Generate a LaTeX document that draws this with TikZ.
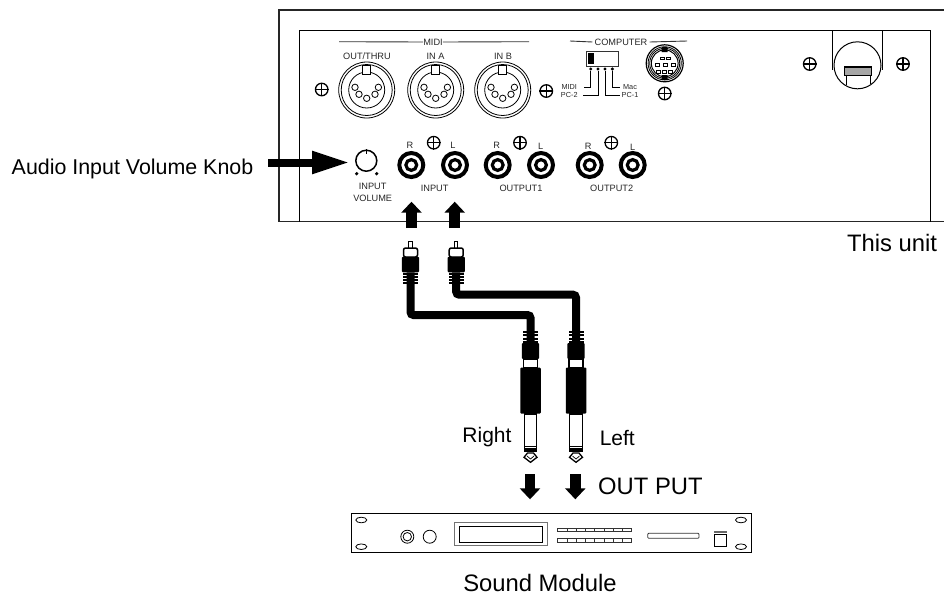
\documentclass[tikz,border=0pt]{standalone}
\usepackage{fontspec}
\setmainfont{Liberation Sans}
\usetikzlibrary{arrows.meta}
\tikzset{
  bigfont/.style={font=\fontsize{21}{25}\selectfont,inner sep=0pt},
  hugefont/.style={font=\fontsize{23.8}{29}\selectfont,inner sep=0pt},
  panelfont/.style={font=\fontsize{9.2}{12.6}\selectfont,inner sep=0pt,align=center,text=black!85},
  tinyfont/.style={font=\fontsize{7.3}{8}\selectfont,inner sep=0pt,text=black!85},
  screw/.style={draw,circle,line width=1.3pt,minimum size=12.5pt,inner sep=0pt},
  blockup/.style={line width=10.5pt,-{Triangle[length=11pt,width=20pt]}},
  cable/.style={line width=8pt,rounded corners=3pt},
  partblack/.style={fill=black,draw=none,inner sep=0pt,rounded corners=1pt},
  partwhite/.style={fill=white,draw=black,line width=1.5pt,inner sep=0pt},
}
% panel parts
\newcommand{\screwat}[3]{
  \node[screw] (#1) at (#2,#3) {};
  \draw[line width=1.3pt] (#1.north) -- (#1.south) (#1.west) -- (#1.east);
}
\newcommand{\dinat}[2]{
  \node[draw,circle,line width=.8pt,minimum size=56pt,inner sep=0pt] (#1) at (#2,90) {};
  \draw[line width=.8pt] (#1) circle[radius=25.5pt] (#1) circle[radius=18pt];
  \draw[line width=.8pt,fill=white] (#2-4,65) rectangle (#2+4,74);
  \foreach \px/\py in {-11.7/-2.7,11.7/-2.7,-7.7/4.3,0/8.3,8.3/4.3}
    \draw[line width=.8pt] (#2+\px,90+\py) circle[radius=3.2pt];
}
\newcommand{\rcaat}[2]{
  \node[draw,circle,line width=4pt,minimum size=24pt,inner sep=0pt] (#1) at (#2,165) {};
  \draw[line width=3.2pt] (#1) circle[radius=5.4pt];
}
\newcommand{\rcaplug}[2]{
  \draw[line width=.9pt,fill=white] (#2-1.7,248) -- (#2-1.7,241) -- (#2+1.7,241) -- (#2+1.7,248);
  \node[partwhite,rounded corners=2pt,minimum width=14pt,minimum height=9pt] (#1Collar) at (#2,252.5) {};
  \node[partblack,minimum width=17.3pt,minimum height=15.5pt] (#1Body) at (#2,264.5) {};
  \foreach \ry in {273.5,276.8,280.1,283.4}
    \fill (#2-7.5,\ry-1) rectangle (#2+7.5,\ry+1);
}
\newcommand{\jackplug}[2]{
  \foreach \ry in {332,335.3,338.6,341.9}
    \fill (#2-7.5,\ry-1) rectangle (#2+7.5,\ry+1);
  \node[partblack,minimum width=17.3pt,minimum height=16pt] (#1Head) at (#2,351) {};
  \node[partwhite,minimum width=14pt,minimum height=9pt] (#1Collar) at (#2,363.5) {};
  \node[partblack,minimum width=20.5pt,minimum height=46pt] (#1Body) at (#2,390.5) {};
  \draw[line width=1.3pt,fill=white] (#2-6.3,414) rectangle (#2+6.3,451.5);
  \fill (#2-6.3,448) rectangle (#2+6.3,451.5);
  \draw[line width=.7pt] (#2-6.3,446) -- (#2+6.3,446);
  \draw[line width=1.3pt,fill=white] (#2-3,453) -- (#2+3,453) -- (#2+6.5,457.3) -- (#2,462.3) -- (#2-6.5,457.3) -- cycle;
  \draw[line width=.7pt] (#2-3.5,456) -- (#2,459) -- (#2+3.5,456);
}
\begin{document}
\begin{tikzpicture}[x=1pt,y=-1pt]
  \useasboundingbox (0,0) rectangle (944,595);
  % unit back panel
  \draw[line width=1.8pt,black!85] (944,10) -- (279,10) -- (279,221.5) -- (944,221.5);
  \draw[line width=.9pt] (299.5,221.5) -- (299.5,30.5) -- (930.7,30.5) -- (930.7,221.5);
  \node[hugefont] (thisUnit) at (892,243) {This unit};
  % midi sockets
  \node[panelfont] (midiLabel) at (433,42) {MIDI};
  \draw[line width=.9pt,black!80] (339,41.7) -- (midiLabel.west) (midiLabel.east) -- (529,41.7);
  \dinat{outThru}{366.7}
  \dinat{inA}{435.7}
  \dinat{inB}{502.7}
  \node[panelfont] (outThruLabel) at (367,56.7) {OUT/THRU};
  \node[panelfont] (inALabel) at (435.5,56.7) {IN A};
  \node[panelfont] (inBLabel) at (503,56.7) {IN B};
  \screwat{screwA}{321.7}{89.5}
  \screwat{screwB}{546.3}{91}
  % computer switch
  \node[panelfont] (computerLabel) at (621,42) {COMPUTER};
  \draw[line width=.9pt,black!80] (570,41) -- ([xshift=-2pt]computerLabel.west) ([xshift=2pt]computerLabel.east) -- (687,41);
  \node[draw,line width=1pt,black!80,minimum width=32pt,minimum height=15pt,inner sep=0pt] (switchBox) at (602.3,58.5) {};
  \node[partblack,rounded corners=0pt,minimum width=6.3pt,minimum height=11pt] (switchKnob) at (591.2,58.5) {};
  \node[tinyfont] (midiSel) at (569.3,87.3) {MIDI};
  \node[tinyfont] (pcTwoSel) at (569.3,95) {PC-2};
  \node[tinyfont] (macSel) at (630,87.3) {Mac};
  \node[tinyfont] (pcOneSel) at (630,95) {PC-1};
  \foreach \dotname/\dotx in {dotA/590.7,dotB/598,dotC/605,dotD/612.3}
    \node[fill=black,circle,inner sep=0pt,minimum size=3.4pt] (\dotname) at (\dotx,69) {};
  \draw[line width=.8pt] (dotA) |- ([xshift=7pt]midiSel.east);
  \draw[line width=.8pt] (dotB) |- ([xshift=5pt]pcTwoSel.east);
  \draw[line width=.8pt] (dotC) |- ([xshift=-1pt]pcOneSel.west);
  \draw[line width=.8pt] (dotD) |- ([xshift=-3pt]macSel.west);
  % mini din
  \node[draw,circle,line width=1.2pt,minimum size=37pt,inner sep=0pt] (miniDin) at (664.7,63.3) {};
  \draw[line width=.8pt] (miniDin) circle[radius=16.6pt] (miniDin) circle[radius=15pt];
  \draw[line width=1pt] (miniDin) circle[radius=13.4pt];
  \fill (661.7,47) rectangle (667.7,52) (661.7,75) rectangle (667.7,80);
  \foreach \px/\py in {662.7/58.3,668.7/58.3,657.3/65,665.3/65,673.3/65,658.7/71.7,664.4/71.7,670/71.7}
    \draw[line width=.8pt] (\px-2,\py-1.2) rectangle (\px+2,\py+1.2);
  \screwat{screwC}{664.7}{93.5}
  % power inlet
  \screwat{screwD}{809.7}{64}
  \screwat{screwE}{903}{64}
  \node[draw,circle,line width=1pt,minimum size=47pt,inner sep=0pt] (inlet) at (857.5,65.3) {};
  \draw[line width=1pt] (832.7,31) -- (832.7,69.5) (882.3,31) -- (882.3,69.5);
  \node[fill=black!35,draw=black,line width=1.5pt,minimum width=27pt,minimum height=8.5pt,inner sep=0pt] (latch) at (858,71.3) {};
  \draw[line width=.8pt] (846,76) -- (846,84.5) (870.3,76) -- (870.3,84);
  % audio row
  \node[draw,circle,line width=1.5pt,minimum size=21pt,inner sep=0pt] (knob) at (366.3,160.7) {};
  \draw[line width=1.5pt] (knob.north) -- ++(0,5);
  \node[fill=black,circle,inner sep=0pt,minimum size=3.6pt] (knobDotL) at (356.7,173.7) {};
  \node[fill=black,circle,inner sep=0pt,minimum size=3.6pt] (knobDotR) at (376.7,173.7) {};
  \node[panelfont] (volumeLabel) at (372.7,192.5) {INPUT\\VOLUME};
  \rcaat{inR}{411.3}
  \rcaat{inL}{455}
  \rcaat{outOneR}{497.7}
  \rcaat{outOneL}{541}
  \rcaat{outTwoR}{589.7}
  \rcaat{outTwoL}{632.7}
  \node[panelfont] (inRLabel) at (410,145) {R};
  \node[panelfont] (inLLabel) at (453,145.5) {L};
  \node[panelfont] (outOneRLabel) at (496.7,145) {R};
  \node[panelfont] (outOneLLabel) at (540.7,146) {L};
  \node[panelfont] (outTwoRLabel) at (588.3,146) {R};
  \node[panelfont] (outTwoLLabel) at (632.7,147) {L};
  \node[panelfont] (inputLabel) at (434.7,188) {INPUT};
  \node[panelfont] (outOneLabel) at (521,188) {OUTPUT1};
  \node[panelfont] (outTwoLabel) at (611.7,188) {OUTPUT2};
  \screwat{screwF}{433.7}{142.7}
  \screwat{screwG}{520}{142.7}
  \screwat{screwH}{611.3}{142.7}
  % knob arrow
  \node[bigfont,font=\fontsize{21.4}{25}\selectfont] (knobText) at (132.5,169) {Audio Input Volume Knob};
  \coordinate (knobFrom) at (268,162.5);
  \coordinate (knobTo) at (350,162.5);
  \draw[line width=8pt,-{Triangle[length=38pt,width=21pt]}] (knobFrom) -- (knobTo);
  % signal arrows to the input
  \coordinate (upRFrom) at (411.5,228);
  \coordinate (upRTo) at (411.5,201.7);
  \coordinate (upLFrom) at (454.7,228);
  \coordinate (upLTo) at (454.7,201.7);
  \draw[blockup] (upRFrom) -- (upRTo);
  \draw[blockup] (upLFrom) -- (upLTo);
  % cables and plugs
  \rcaplug{plugR}{410.5}
  \rcaplug{plugL}{456.2}
  \jackplug{jackR}{530.5}
  \jackplug{jackL}{576}
  \coordinate (cableR) at (470,315);
  \coordinate (cableL) at (520,294.7);
  \draw[cable] (plugRBody.south) |- (cableR) -| (jackRHead.north);
  \draw[cable] (plugLBody.south) |- (cableL) -| (jackLHead.north);
  \node[bigfont] (rightLabel) at (487,437.5) {Right};
  \node[bigfont] (leftLabel) at (617.3,437.5) {Left};
  % signal arrows from the plugs
  \coordinate (downRFrom) at (530,474);
  \coordinate (downRTo) at (530,499.3);
  \coordinate (downLFrom) at (575.3,474);
  \coordinate (downLTo) at (575.3,499.3);
  \draw[blockup] (downRFrom) -- (downRTo);
  \draw[blockup] (downLFrom) -- (downLTo);
  \node[hugefont,anchor=west] (outPutLabel) at (598,486.7) {OUT PUT};
  % sound module
  \node[draw,line width=1pt,minimum width=400pt,minimum height=39pt,inner sep=0pt] (moduleBox) at (551,533) {};
  \foreach \ex/\ey in {361.3/520,361.3/546.7,741/520,741/546.7}
    \draw[line width=.8pt] (\ex,\ey) ellipse[x radius=5.5pt,y radius=2.8pt];
  \draw[line width=.8pt] (407.3,536.7) circle[radius=6.5pt] (407.3,536.7) circle[radius=4.2pt];
  \draw[line width=.8pt] (429.7,536.7) circle[radius=6.5pt];
  \draw[line width=.9pt,black!55] (454.7,522.3) rectangle (547,545.7);
  \draw[line width=.9pt] (459,526.3) rectangle (542.7,542.7);
  \foreach \bn in {0,...,7}{
    \draw[line width=.7pt,black!80] (557.7+9.25*\bn,528) rectangle ++(9.25,3.7);
    \draw[line width=.7pt,black!80] (557.7+9.25*\bn,538.5) rectangle ++(9.25,3.7);
  }
  \draw[line width=.8pt,black!80,rounded corners=1pt] (647.7,533.3) rectangle (699,538.3);
  \draw[line width=.8pt] (714,534) rectangle (726.7,546.7);
  \fill[black!60] (714,530.7) rectangle (726.7,532.7);
  \node[hugefont] (moduleLabel) at (540,583) {Sound Module};
\end{tikzpicture}
\end{document}
